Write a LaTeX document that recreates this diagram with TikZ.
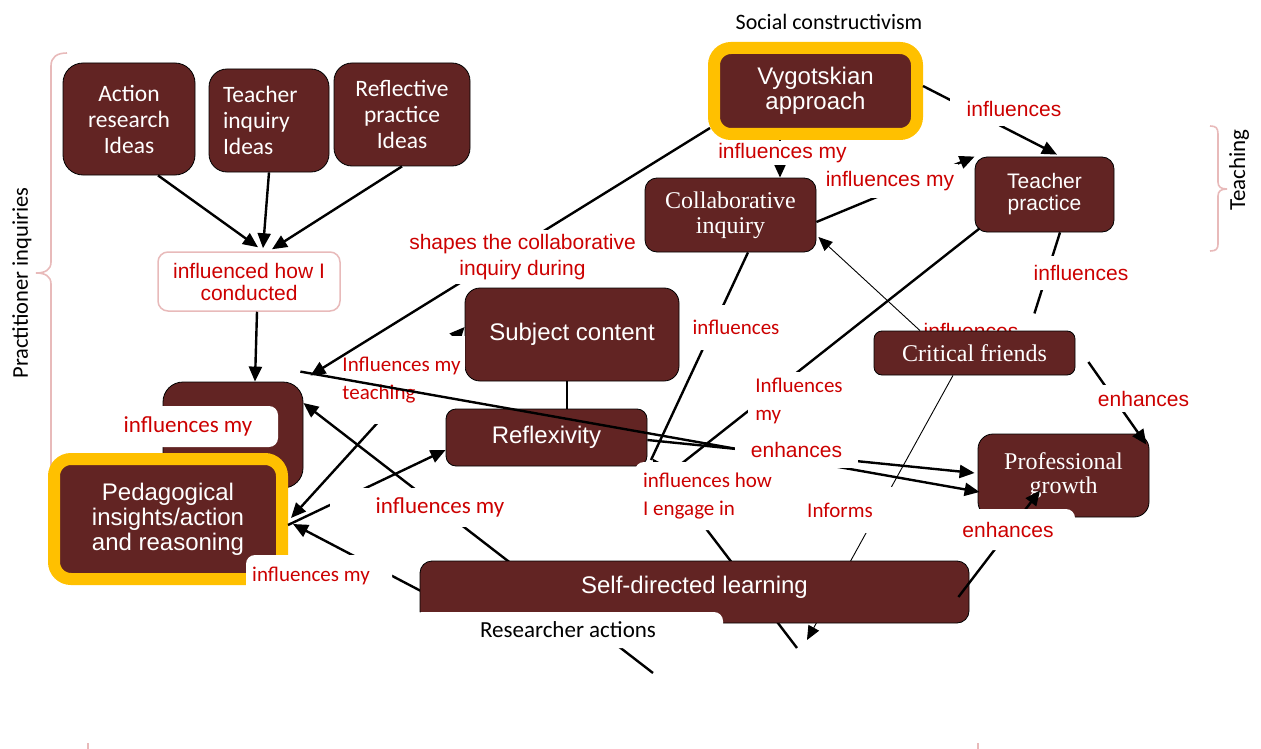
\documentclass[tikz,border=0pt]{standalone}
\usepackage{fontspec}
\setmainfont{Liberation Sans}
\newfontfamily\calib{Carlito}
\newfontfamily\tms{Liberation Serif}
\usetikzlibrary{arrows.meta}
\definecolor{maroon}{RGB}{98,36,35}
\definecolor{gold}{RGB}{255,192,0}
\definecolor{lred}{RGB}{204,0,0}
\definecolor{pinkb}{RGB}{232,186,186}
\tikzset{
 box/.style={draw=black, line width=0.8pt, fill=maroon, text=white, align=center, inner sep=0pt, rounded corners=#1},
 box/.default=15pt,
 ybox/.style={draw=gold, line width=12pt, fill=maroon, text=white, align=center, inner sep=0pt, outer sep=0pt, rounded corners=17pt},
 lbl/.style={fill=white, text=lred, inner sep=0pt, align=center},
 conn/.style={line width=2.4pt, -{Triangle[length=15pt,width=13pt]}},
 both/.style={line width=2.4pt, {Triangle[length=15pt,width=13pt]}-{Triangle[length=15pt,width=13pt]}},
 plain/.style={line width=2.4pt},
 thinarr/.style={line width=0.9pt, -{Triangle[length=14pt,width=12pt]}},
 brace/.style={draw=pinkb, line width=1.6pt},
}
\begin{document}
\begin{tikzpicture}[x=1pt,y=-1pt]
\useasboundingbox (0,0) rectangle (1261,749);

% braces and side texts
\draw[brace] (67,53) .. controls (57,53) and (51,57) .. (51,66) -- (51,262) .. controls (51,270) and (45,273) .. (36,273) .. controls (45,273) and (51,276) .. (51,284) -- (51,470);
\draw[brace] (1210,126) .. controls (1216,126) and (1218,128) .. (1218,134) -- (1218,182) .. controls (1218,187) and (1221,189) .. (1227,189) .. controls (1221,189) and (1218,191) .. (1218,196) -- (1218,244) .. controls (1218,249) and (1216,251) .. (1210,251);
\draw[brace] (88,743) -- (88,749);
\draw[brace] (978,743) -- (978,749);
\node[rotate=90, inner sep=0pt, font=\calib\fontsize{22.5}{26}\selectfont] (pi) at (22,283) {Practitioner inquiries};
\node[rotate=90, inner sep=0pt, font=\calib\fontsize{23}{26}\selectfont] (teach) at (1239,170) {Teaching};
\node[inner sep=0pt, font=\calib\fontsize{22}{26}\selectfont] (sc) at (829,22) {Social constructivism};

% boxes
\node[box=20pt, minimum width=132pt, minimum height=112pt, font=\calib\fontsize{23.5}{26}\selectfont] (ar) at (129,119) {Action\\research\\Ideas};
\node[box=18pt, minimum width=120pt, minimum height=103pt, text width=92pt, align=left, font=\calib\fontsize{23.5}{26}\selectfont] (ti) at (269,120.5) {Teacher\\inquiry\\Ideas};
\node[box=18pt, minimum width=136pt, minimum height=103pt, font=\calib\fontsize{23.5}{26}\selectfont] (rp) at (402,114.5) {Reflective\\practice\\Ideas};
\node[draw=pinkb, line width=1.5pt, fill=white, rounded corners=10pt, minimum width=182pt, minimum height=59pt, text=lred, align=center, inner sep=0pt, font=\fontsize{21}{22}\selectfont] (ihc) at (249,281.5) {influenced how I\\conducted};
\node[box=20pt, minimum width=140pt, minimum height=106pt] (hid) at (233,435) {};
\node[ybox, minimum width=228pt, minimum height=120pt, font=\fontsize{24}{25}\selectfont] (ped) at (168,519) {Pedagogical\\insights/action\\and reasoning};
\node[box=15pt, minimum width=214pt, minimum height=93pt, font=\fontsize{24}{26}\selectfont] (subj) at (572,334.5) {Subject content};
\draw[both] ([yshift=7.5pt]subj.west) -- ([xshift=9pt,yshift=1pt]ped.east);
\node[lbl, minimum width=127pt, minimum height=88pt, align=left, font=\calib\fontsize{21}{28}\selectfont] (l10) at (401.5,380) {Influences my\\teaching};
\node[box=10pt, minimum width=201pt, minimum height=57pt, font=\fontsize{24}{26}\selectfont] (refl) at (546.5,437.5) {Reflexivity};
\node[box=12pt, minimum width=171pt, minimum height=74pt, font=\tms\fontsize{24}{25}\selectfont] (collab) at (730.5,215) {Collaborative\\inquiry};
\node[ybox, minimum width=203pt, minimum height=86pt, font=\fontsize{24}{25}\selectfont] (vyg) at (815.5,91) {Vygotskian\\approach};
\node[box=12pt, minimum width=139pt, minimum height=75pt, font=\fontsize{21}{22}\selectfont] (tp) at (1044.5,194.5) {Teacher\\practice};
\node[box=15pt, minimum width=171pt, minimum height=83pt, font=\tms\fontsize{24}{24}\selectfont] (pg) at (1063.5,475.5) {Professional\\growth};
\node[lbl, minimum width=116pt, minimum height=30pt, font=\fontsize{21}{24}\selectfont] (l19) at (978,331) {influences\rule{14pt}{0pt}};
\node[box=8pt, minimum width=201pt, minimum height=44pt, font=\tms\fontsize{24}{26}\selectfont] (cf) at (974.5,353) {Critical friends};

% free ends
\coordinate (c12) at (653,673);
\coordinate (c13) at (440,601);
\coordinate (c16) at (651,460);
\coordinate (c17) at (797,648);
\coordinate (c18) at (676,468);
\coordinate (c22) at (807,640);

% connectors (under labels)
\draw[conn] ([xshift=29pt]ar.south) -- ([xshift=9pt,yshift=4pt]ihc.north);
\draw[conn] (ti.south) -- ([xshift=14pt,yshift=3pt]ihc.north);
\draw[conn] (rp.south) -- ([xshift=23pt,yshift=2pt]ihc.north);
\draw[conn] ([xshift=8pt]ihc.south) -- ([xshift=22pt]hid.north);
\draw[conn] ([xshift=-35.5pt,yshift=-6pt]vyg.south) -- ([xshift=49.5pt]collab.north);
\draw[conn] ([yshift=-7pt]collab.east) -- (tp.north west);
\draw[conn] ([xshift=6pt,yshift=5pt]vyg.east) -- ([xshift=12.5pt,yshift=2pt]tp.north);
\draw[plain] ([xshift=-5pt]subj.south) -- ([xshift=20.5pt]refl.north);
\draw[conn] ([xshift=6pt,yshift=-6pt]ped.east) -- ([yshift=-12.5pt]refl.west);
\draw[conn] (c12) -- ([yshift=32pt]hid.east);
\draw[conn] (c13) -- ([xshift=11pt,yshift=-5pt]ped.east);
\draw[plain] ([xshift=17.5pt]collab.south) -- (c16);
\draw[conn] (c17) -- ([xshift=5pt,yshift=8pt]refl.south east);
\draw[plain] ([xshift=5pt,yshift=4pt]tp.south west) -- (c18);
\draw[thinarr] ([xshift=-54.5pt]cf.north) -- ([xshift=2pt,yshift=-22pt]collab.east);
\draw[plain, shorten >=18pt] ([xshift=15.5pt]tp.south) -- ([xshift=54.5pt]cf.north);
\draw[conn] ([xshift=13pt,yshift=-9pt]cf.east) -- ([xshift=-3pt,yshift=-11pt]pg.north east);
\draw[thinarr] ([xshift=-21.5pt]cf.south) -- (c22);
\draw[conn] ([yshift=-2.5pt]refl.east) -- ([xshift=-3pt,yshift=2.5pt]pg.west);

\node[box=12pt, minimum width=549pt, minimum height=62pt, text height=10pt, text depth=7pt, font=\fontsize{24}{26}\selectfont] (sdl) at (694.5,592) {Self-directed learning};
\draw[conn] ([xshift=-11pt,yshift=-5pt]sdl.east) -- ([xshift=-23.5pt,yshift=27pt]pg.south);

% labels and patches
\node[lbl, minimum width=135pt, minimum height=24pt, font=\fontsize{21}{24}\selectfont] (l6) at (782.5,153) {influences my};
\node[lbl, minimum width=136pt, minimum height=34pt, font=\fontsize{21}{24}\selectfont] (l7) at (890,181) {influences my};
\node[lbl, minimum width=128pt, minimum height=34pt, font=\fontsize{21}{24}\selectfont] (l8) at (1014,109) {influences};
\node[lbl, minimum width=180pt, minimum height=39pt, font=\calib\fontsize{23}{26}\selectfont] (l12) at (420,507) {\rule{40pt}{0pt}influences my};
\node[lbl, minimum width=92pt, minimum height=45pt, font=\calib\fontsize{21}{24}\selectfont] (l16) at (736,327.5) {influences};
\node[lbl, minimum width=102pt, minimum height=58pt, align=left, font=\calib\fontsize{21}{28}\selectfont] (l18) at (799,401) {Influences\\my};
\node[lbl, minimum width=102pt, minimum height=34pt, font=\fontsize{21}{24}\selectfont] (l20) at (1081,273) {influences};
\node[lbl, minimum width=97pt, minimum height=27pt, font=\fontsize{21}{24}\selectfont] (l21) at (1143.5,398.5) {enhances};
\node[lbl, minimum width=100pt, minimum height=46pt, font=\calib\fontsize{21}{24}\selectfont] (l22) at (846,510) {Informs\rule{12pt}{0pt}};
\node[lbl, rounded corners=9pt, minimum width=166pt, minimum height=41pt, font=\calib\fontsize{23}{26}\selectfont] (p1) at (195,426.5) {influences my\rule{14pt}{0pt}};
\node[lbl, rounded corners=9pt, minimum width=146pt, minimum height=42pt, font=\calib\fontsize{21}{24}\selectfont] (p2) at (319,576) {influences my\rule{16pt}{0pt}};
\node[lbl, rounded corners=9pt, minimum width=123pt, minimum height=41pt, font=\fontsize{21}{24}\selectfont] (p3) at (1013.5,529.5) {enhances\rule{11pt}{0pt}};
\node[lbl, rounded corners=9pt, minimum width=145pt, minimum height=68pt, align=left, font=\calib\fontsize{21}{28}\selectfont] (p5) at (707.5,496) {influences how\\I engage in};

% connectors over labels
\draw[conn] ([xshift=-4pt,yshift=6pt]vyg.south west) -- ([xshift=7pt,yshift=6pt]hid.north east);
\draw[conn] ([xshift=-3pt,yshift=10pt]hid.north east) -- ([xshift=2pt,yshift=-16.5pt]pg.west);

\node[lbl, minimum width=235pt, minimum height=54pt, font=\fontsize{21}{26}\selectfont] (l5) at (522.5,257) {shapes the collaborative\\inquiry during};
\node[lbl, minimum width=123pt, minimum height=36pt, font=\fontsize{21}{24}\selectfont] (lenh) at (796.5,450) {enhances};
\node[lbl, text=black, rounded corners=9pt, minimum width=310pt, minimum height=36pt, font=\calib\fontsize{23}{26}\selectfont] (p4) at (568,630) {Researcher actions};
\end{tikzpicture}
\end{document}
